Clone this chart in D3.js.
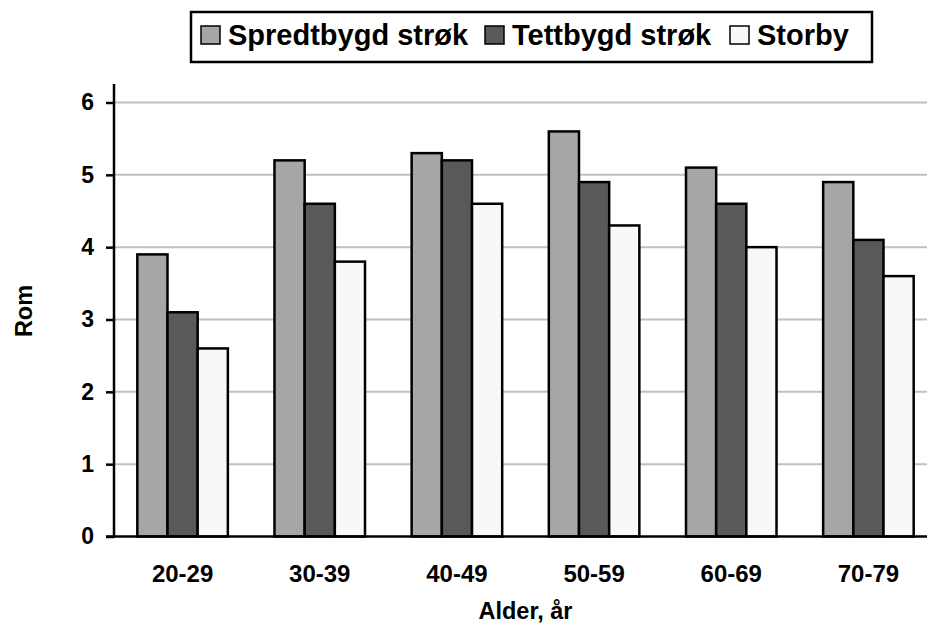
<!DOCTYPE html>
<html>
<head>
<meta charset="utf-8">
<script src="https://cdn.jsdelivr.net/npm/d3@7"></script>
<style>
  html, body { margin: 0; padding: 0; background: #fff; }
  text { font-family: "Liberation Sans", Arial, sans-serif; font-weight: bold; fill: #000; }
</style>
</head>
<body>
<svg id="chart" width="927" height="625"></svg>
<script>
// Antall rom etter alder og bostedstype
const categories = ["20-29", "30-39", "40-49", "50-59", "60-69", "70-79"];
const seriesNames = ["Spredtbygd strøk", "Tettbygd strøk", "Storby"];
const spredtbygd = [3.9, 5.2, 5.3, 5.6, 5.1, 4.9];
const tettbygd   = [3.1, 4.6, 5.2, 4.9, 4.6, 4.1];
const storby     = [2.6, 3.8, 4.6, 4.3, 4.0, 3.6];
const yTicks = [0, 1, 2, 3, 4, 5, 6];
const xTitle = "Alder, år";
const yTitle = "Rom";

const seriesValues = [spredtbygd, tettbygd, storby];
const colors = ["#a6a6a6", "#595959", "#f8f8f8"];

const svg = d3.select("#chart");
const plotLeft = 114, plotRight = 937, plotBottom = 536.5, plotTop = 102.5;

const x = d3.scaleBand().domain(categories).range([plotLeft, plotRight])
  .paddingInner(0.34).paddingOuter(0.17);
const xs = d3.scaleBand().domain(seriesNames).range([0, x.bandwidth()]);
const y = d3.scaleLinear().domain([0, 6]).range([plotBottom, plotTop]);

// gridlines
svg.append("g").selectAll("line").data(yTicks.filter(d => d > 0)).join("line")
  .attr("x1", plotLeft).attr("x2", 927)
  .attr("y1", d => y(d)).attr("y2", d => y(d))
  .attr("stroke", "#c0c0c0").attr("stroke-width", 2);

// bars
const groups = svg.append("g").selectAll("g").data(categories).join("g")
  .attr("transform", d => `translate(${x(d)},0)`);
groups.selectAll("rect")
  .data((c, i) => seriesNames.map((s, k) => ({ s, k, v: seriesValues[k][i] })))
  .join("rect")
  .attr("x", d => xs(d.s))
  .attr("width", xs.bandwidth())
  .attr("y", d => y(d.v))
  .attr("height", d => y(0) - y(d.v))
  .attr("fill", d => colors[d.k])
  .attr("stroke", "#000").attr("stroke-width", 2.5);

// y axis
const yAxis = svg.append("g").attr("transform", `translate(${plotLeft},0)`)
  .call(d3.axisLeft(y).tickValues(yTicks).tickSize(8).tickPadding(12).tickFormat(d3.format("d")));
yAxis.select(".domain").remove();
yAxis.append("line").attr("x1", 0).attr("x2", 0).attr("y1", 84).attr("y2", plotBottom + 1)
  .attr("stroke", "#000").attr("stroke-width", 2.5);
yAxis.selectAll(".tick line").attr("stroke", "#000").attr("stroke-width", 2.5);
yAxis.selectAll(".tick text").attr("font-size", 23).attr("font-family", "Liberation Sans, Arial, sans-serif")
  .attr("font-weight", "bold").attr("fill", "#000");

// x axis
svg.append("line").attr("x1", plotLeft - 8).attr("x2", 927).attr("y1", plotBottom).attr("y2", plotBottom)
  .attr("stroke", "#000").attr("stroke-width", 2.5);
const xAxis = svg.append("g").attr("transform", `translate(0,${plotBottom})`)
  .call(d3.axisBottom(x).tickSize(0).tickPadding(0));
xAxis.select(".domain").remove();
xAxis.selectAll(".tick text").attr("dy", null).attr("y", 45.5)
  .attr("font-size", 24).attr("font-family", "Liberation Sans, Arial, sans-serif")
  .attr("font-weight", "bold").attr("fill", "#000");

// axis titles
svg.append("text").attr("x", (plotLeft + plotRight) / 2).attr("y", 619)
  .attr("text-anchor", "middle").attr("font-size", 23.5).text(xTitle);
svg.append("text").attr("transform", "translate(32,311) rotate(-90)")
  .attr("text-anchor", "middle").attr("font-size", 23.5).text(yTitle);

// legend
const legend = svg.append("g");
legend.append("rect").attr("x", 191).attr("y", 12).attr("width", 681).attr("height", 50)
  .attr("fill", "#fff").attr("stroke", "#000").attr("stroke-width", 2.5);
const legendX = [201, 485, 730];
seriesNames.forEach((s, k) => {
  legend.append("rect").attr("x", legendX[k]).attr("y", 26).attr("width", 19).attr("height", 18)
    .attr("fill", colors[k]).attr("stroke", "#000").attr("stroke-width", 1.5);
  legend.append("text").attr("x", legendX[k] + 27).attr("y", 44.5)
    .attr("font-size", 29).text(s);
});
</script>
</body>
</html>
